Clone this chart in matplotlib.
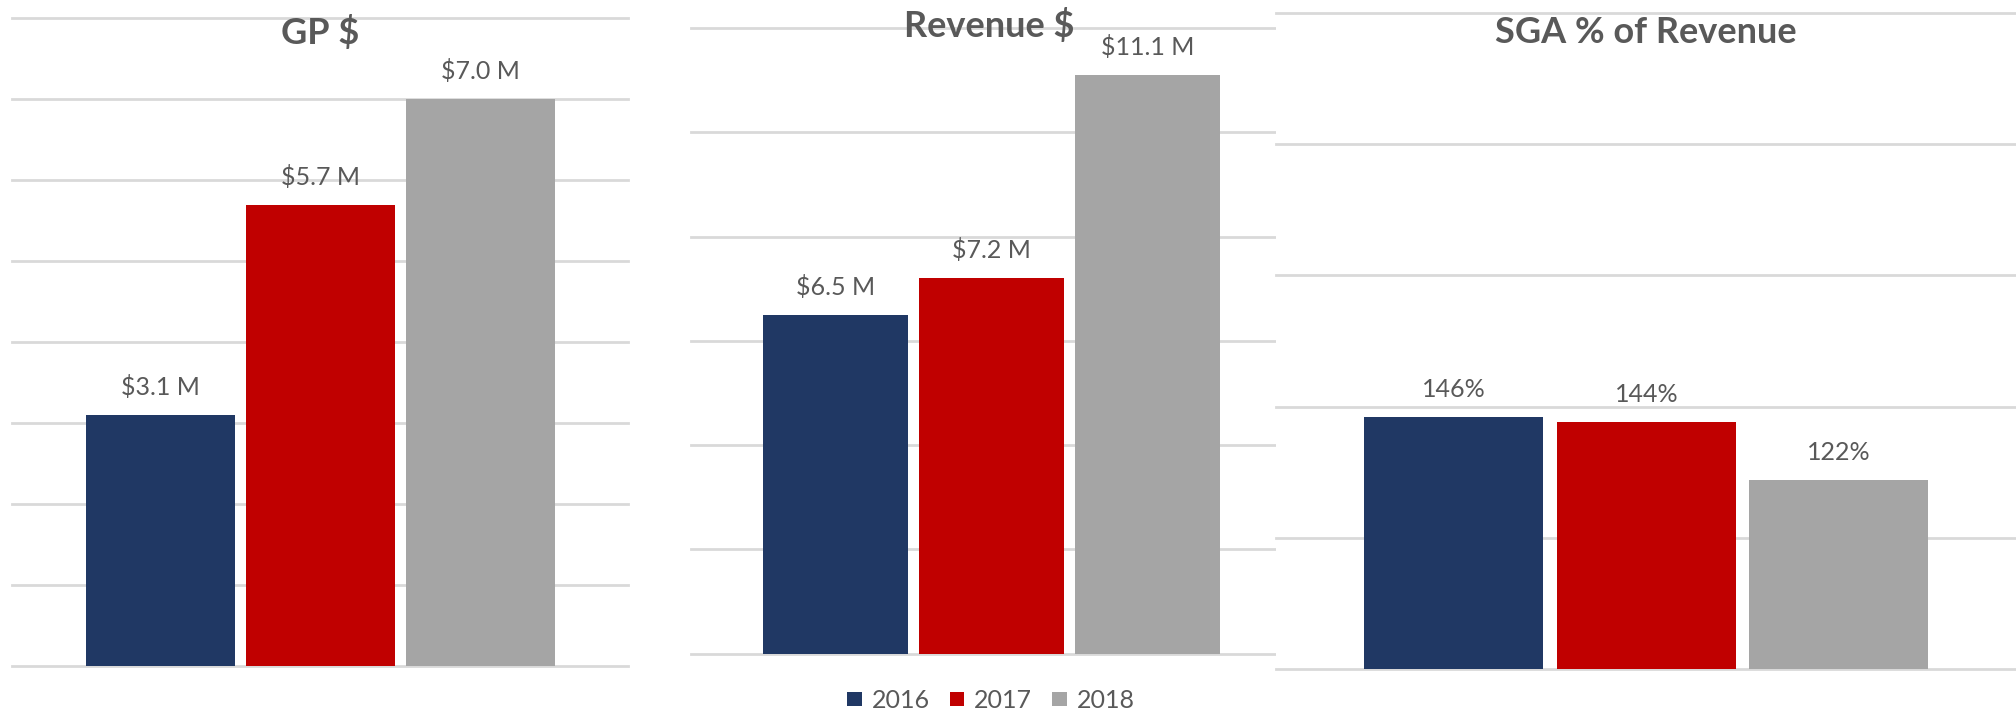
import matplotlib
matplotlib.use('Agg')
import matplotlib.pyplot as plt

# Yearly figures
years = ['2016', '2017', '2018']
gp_musd = [3.1, 5.7, 7.0]
revenue_musd = [6.5, 7.2, 11.1]
sga_pct_revenue = [1.46, 1.44, 1.22]

colors = ['#203864', '#C00000', '#A5A5A5']
text_color = '#595959'
grid_color = '#D9D9D9'

plt.rcParams['font.family'] = ['Lato', 'DejaVu Sans']

W, H = 2016, 713
fig = plt.figure(figsize=(W / 100, H / 100), dpi=100)


def add_panel(x0, x1, y_bottom, y_top, ylim, ticks, values, fmt, title, title_x, title_y):
    ax = fig.add_axes([x0 / W, 1 - y_bottom / H, (x1 - x0) / W, (y_bottom - y_top) / H])
    xs = range(len(values))
    bars = ax.bar(xs, values, width=0.93, color=colors, zorder=2)
    ax.set_xlim(-0.925, 2.92)
    ax.set_ylim(*ylim)
    ax.set_yticks(ticks)
    ax.grid(axis='y', color=grid_color, linewidth=2.0, zorder=0)
    for gl in ax.get_ygridlines():
        gl.set_clip_on(False)
    ax.set_axisbelow(True)
    ax.tick_params(left=False, bottom=False, labelleft=False, labelbottom=False)
    for s in ax.spines.values():
        s.set_visible(False)
    for b, v in zip(bars, values):
        ax.annotate(fmt(v), (b.get_x() + b.get_width() / 2, v), xytext=(0, 14.4),
                    textcoords='offset points', ha='center', va='baseline',
                    fontsize=18, color=text_color)
    fig.text(title_x / W, 1 - title_y / H, title, ha='center', va='baseline',
             fontsize=26, fontweight='bold', color=text_color)
    return bars


add_panel(12, 628, 666.2, 18.2, (0, 8), range(0, 9), gp_musd,
          lambda v: f'${v:.1f} M', 'GP $', 320.5, 44)
rev_bars = add_panel(691.4, 1291, 653.5, 28.2, (0, 12), range(0, 13, 2), revenue_musd,
                     lambda v: f'${v:.1f} M', 'Revenue $', 989, 37.3)
add_panel(1275.7, 2016, 669.4, 12.7, (0.5, 3.0), [0.5, 1.0, 1.5, 2.0, 2.5, 3.0], sga_pct_revenue,
          lambda v: f'{v:.0%}', 'SGA % of Revenue', 1646, 43.2)

fig.legend(rev_bars, years, loc='center', bbox_to_anchor=(991 / W, 1 - 700 / H), ncol=3,
           frameon=False, fontsize=18, labelcolor=text_color,
           handlelength=0.58, handleheight=0.48, handletextpad=0.4, columnspacing=0.8)

fig.savefig('out.png', dpi=100)
